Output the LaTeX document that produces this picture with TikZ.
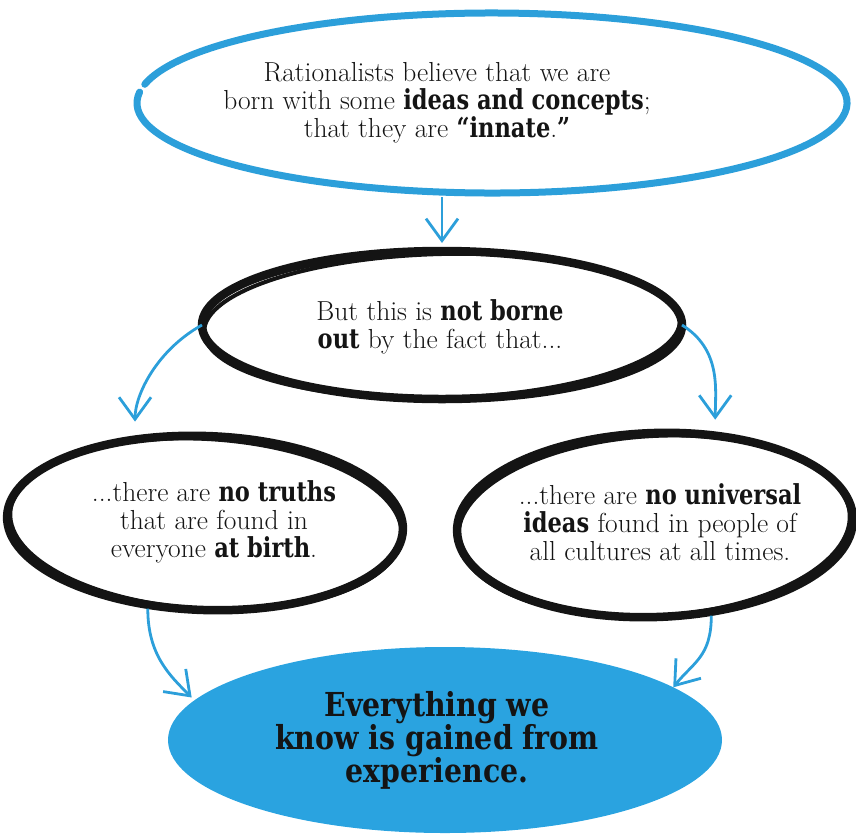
\documentclass[tikz,border=0pt]{standalone}
\usepackage{fontspec}
\usetikzlibrary{shapes.geometric,arrows.meta}
\newfontfamily\slab{DejaVu Serif}[FakeStretch=0.82]
\newfontfamily\heavyslab{DejaVu Serif}[FakeStretch=0.86]
\newcommand{\bslab}[1]{{\slab\bfseries #1}}
\definecolor{penblue}{HTML}{2C9FDA}
\definecolor{fillblue}{HTML}{2AA3E0}
\definecolor{ink}{HTML}{141414}
\begin{document}
\begin{tikzpicture}[x=1pt,y=-1pt,
  bubble/.style={ellipse,inner sep=0pt,outer sep=0pt},
  blackring/.style={draw=ink,line width=8.5pt},
  roughring/.style={draw=ink,line width=4pt},
  body/.style={align=center,font=\fontsize{27.5}{28}\selectfont,text=ink},
  arr/.style={draw=penblue,line width=2.8pt,-{Straight Barb[length=22pt,width=32pt,line width=2.8pt]}}]
\useasboundingbox (0,0) rectangle (856,836);
% top blue ring
\node[bubble,minimum width=710pt,minimum height=180pt] (top) at (492,103) {};
\draw[penblue,line width=7pt,line cap=round] (492,103) ++(192:355 and 90) arc[start angle=192,end angle=547,x radius=355,y radius=90];
\draw[penblue,line width=3pt,line cap=round] (492,105) ++(215:355 and 91) arc[start angle=215,end angle=330,x radius=355,y radius=91];
\node[body] (toptext) at (437,103) {Rationalists believe that we are\\born with some \bslab{ideas and concepts};\\that they are \bslab{“innate}.\bslab{”}};
% middle
\node[bubble,blackring,minimum width=480pt,minimum height=148pt] (mid) at (442,325) {};
\draw[roughring,rotate around={1.5:(442,325)}] (442,326) ellipse[x radius=238,y radius=72];
\node[body] (midtext) at (440,327) {But this is \bslab{not borne}\\\bslab{out} by the fact that...};
% lower pair
\node[bubble,blackring,minimum width=396pt,minimum height=174pt,rotate=-2] (bl) at (205,523) {};
\draw[roughring,rotate around={-3.5:(205,523)}] (206,524) ellipse[x radius=196,y radius=85];
\node[body] (bltext) at (214,522) {...there are \bslab{no truths}\\that are found in\\everyone \bslab{at birth}.};
\node[bubble,blackring,minimum width=396pt,minimum height=184pt,rotate=2] (br) at (655,525) {};
\draw[roughring,rotate around={3.5:(655,525)}] (654,526) ellipse[x radius=196,y radius=90];
\node[body] (brtext) at (660,522) {...there are \bslab{no universal}\\\bslab{ideas} found in people of\\all cultures at all times.};
% conclusion
\node[bubble,fill=fillblue,minimum width=554pt,minimum height=186pt] (end) at (445,740) {};
\node[align=center,text=ink,font=\heavyslab\bfseries\fontsize{33}{33}\selectfont] (endtext) at (437,740) {Everything we\\know is gained from\\experience.};
% connectors
\draw[arr,shorten <=4pt,shorten >=8pt] (mid.north |- top.south) -- (mid.north);
\draw[arr,shorten >=18pt] (mid.west) .. controls +(-45,25) and +(0,-45) .. (bl.132);
\draw[arr,shorten >=16pt] (mid.east) .. controls +(40,25) and +(0,-45) .. (br.54);
\draw[arr,shorten <=4pt,shorten >=4pt] (bl.237) .. controls +(0,50) and +(-25,-25) .. (end.171);
\draw[arr,shorten <=4pt] (br.301) .. controls +(0,45) and +(20,-25) .. (end.13);
\end{tikzpicture}
\end{document}
